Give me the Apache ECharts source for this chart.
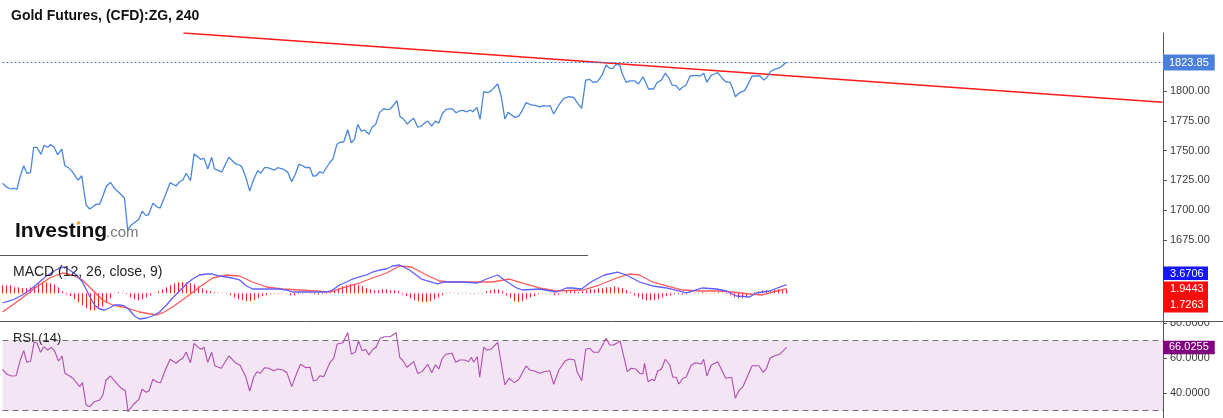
<!DOCTYPE html>
<html><head><meta charset="utf-8">
<script src="https://cdn.jsdelivr.net/npm/echarts@6.0.0/dist/echarts.min.js"></script>
<style>html,body{margin:0;padding:0;background:#fff}#c{width:1223px;height:418px}</style>
</head><body><div id="c"></div>
<script>
// ---- DATA (bar index along time) ----
const titleText = 'Gold Futures, (CFD):ZG, 240';
const macdTitle = 'MACD (12, 26, close, 9)';
const rsiTitle = 'RSI (14)';
const priceTicks = [1675, 1700, 1725, 1750, 1775, 1800];
const rsiTicks = [40, 60, 80];
const rsiBands = [30, 70];

const closeX = [0,1.1,2.2,3.0,3.6,4.4,5.3,6.1,7.0,7.8,8.6,9.6,10.4,11.3,12.0,12.8,13.8,14.8,15.6,16.5,17.4,18.9,19.8,20.9,21.8,22.6,23.4,24.3,25.1,25.9,27.0,28.0,29.3,30.5,31.3,32.2,34.1,34.9,35.9,36.5,37.6,38.6,39.4,40.9,41.9,43.4,44.3,45.1,45.9,47.0,47.9,48.8,49.5,50.4,51.3,52.3,53.0,54.8,56.6,58.3,59.3,59.9,60.9,61.8,62.8,63.8,64.6,65.5,66.3,68.0,68.8,70.3,71.3,72.3,73.3,74.1,75.1,75.8,76.8,77.6,78.4,79.3,80.1,80.9,81.8,82.6,83.6,84.4,85.3,86.3,87.2,88.0,88.8,89.7,90.5,91.6,92.4,93.3,94.3,95.3,95.9,96.9,97.6,98.6,99.4,100.3,101.2,102.0,102.8,103.8,104.7,105.5,106.3,107.3,108.2,109.1,109.9,110.9,112.4,113.4,114.3,115.3,116.1,116.9,117.6,118.6,119.4,120.3,121.3,122.2,123.8,124.7,125.6,126.4,127.3,128.1,129.1,129.9,130.9,132.2,133.4,134.3,135.1,136.1,136.9,137.8,139.1,140.3,141.5,142.8,143.8,144.8,145.8,146.8,147.6,148.7,149.9,150.9,151.8,152.6,153.4,154.3,154.9,155.9,156.9,158.0,159.0,160.1,160.9,161.5,162.8,163.6,164.7,165.7,166.5,167.4,168.4,169.3,170.1,170.8,171.9,173.3,174.4,175.3,176.1,177.2,178.0,178.8,179.8,180.8,181.9,182.6,183.2,184.3,185.5,186.3,187.4,188.4,189.4,190.3,191.1,191.9,193.0,194.3,195.1,195.9];
const closeY = [1722.6,1719.2,1717.8,1718.4,1717.5,1728.1,1737.3,1731.0,1731.5,1752.8,1752.8,1746.9,1754.4,1752.8,1755.0,1753.3,1746.6,1751.3,1737.1,1735.7,1732.6,1725.3,1728.9,1704.4,1701.0,1702.9,1704.9,1705.2,1711.9,1719.7,1723.4,1718.4,1714.2,1710.0,1683.4,1687.6,1692.4,1699.1,1695.4,1696.2,1705.8,1702.9,1701.8,1714.2,1723.1,1720.3,1723.9,1725.3,1731.0,1724.8,1747.2,1744.9,1742.7,1743.5,1734.6,1744.4,1734.6,1732.1,1744.4,1738.8,1737.9,1736.0,1726.8,1716.1,1725.9,1733.1,1731.0,1735.7,1735.7,1733.7,1735.7,1734.3,1731.8,1723.9,1731.0,1738.5,1737.3,1735.7,1736.0,1728.7,1728.9,1732.3,1731.0,1735.2,1739.8,1743.0,1755.3,1757.0,1757.2,1767.5,1756.6,1759.5,1772.1,1766.4,1767.3,1763.7,1769.6,1772.1,1782.1,1785.2,1784.6,1784.9,1787.4,1791.9,1778.4,1776.3,1772.3,1775.1,1777.1,1769.6,1770.6,1772.9,1774.8,1770.6,1774.8,1773.1,1780.7,1784.6,1785.2,1781.8,1783.5,1783.5,1782.6,1784.1,1782.6,1786.3,1776.3,1799.4,1798.6,1800.3,1805.9,1795.2,1776.5,1782.1,1779.9,1777.9,1779.0,1783.5,1790.3,1788.3,1787.7,1786.8,1787.7,1787.4,1787.7,1780.7,1788.3,1793.9,1795.2,1794.7,1789.7,1785.5,1809.2,1809.8,1807.3,1807.8,1813.4,1821.8,1819.0,1819.0,1822.4,1821.8,1814.9,1807.3,1808.6,1808.6,1805.9,1812.0,1806.5,1801.7,1801.7,1807.0,1809.2,1814.9,1811.5,1805.0,1804.5,1800.8,1803.6,1804.5,1812.6,1813.2,1812.6,1814.9,1807.3,1813.4,1814.3,1815.4,1811.2,1807.8,1807.3,1801.7,1795.2,1798.6,1800.3,1805.0,1812.6,1812.6,1812.6,1809.2,1811.2,1816.2,1818.2,1819.6,1821.6,1823.85];

const trendX = [45.25, 290];
const trendY = [1848.7, 1790.6];

const macdX = [0,2.5,5,7.5,9.25,11,12.5,14.25,15.5,16.75,18.5,20,21.75,23,24.25,25.5,26.75,28,29.25,30.5,31.75,33,34.25,36,37.5,39.25,41,42.5,44.25,46,47.5,49.25,51,52.5,54.25,56,57.5,59.25,61,62.5,64.25,66,67.5,69.25,71,72.5,74.25,76,77.5,79.25,81,82.5,84.25,86,87.5,89.25,91,92.5,94.25,96,97.5,99.25,101.75,104.75,108.75,110.5,115,118.75,121,123.75,125.5,128.5,130,134.25,138.5,141,142.5,144.75,147.5,150.5,153.75,156,159.25,162.5,166,171,175,178.5,181,183.5,186.75,188.5,191.75,196];
const macdY = [-4.13,-2.85,-0.72,2.26,4.81,7.36,9.06,10.77,11.19,9.91,7.79,4.81,-1.15,-4.98,-6.68,-7.11,-6.25,-4.98,-4.98,-5.40,-7.11,-9.66,-10.94,-10.51,-9.66,-7.96,-4.98,-2.00,0.98,3.96,6.08,7.79,8.21,8.21,7.36,6.94,6.51,5.66,3.11,1.83,1.83,1.83,1.83,1.83,1.40,0.55,0.55,0.55,0.55,0.55,0.55,1.40,3.53,4.81,6.08,6.94,7.79,9.06,9.91,10.34,11.62,12.04,9.91,6.08,3.96,4.81,4.81,4.38,6.08,7.79,5.66,2.26,1.40,1.83,0.55,2.26,2.26,1.83,5.23,7.79,9.06,7.79,4.81,3.11,2.26,0.13,2.26,1.83,0.98,-1.15,-1.57,0.13,0.98,3.6706];

const signalX = [0,4.25,8.5,11.75,15,17.5,20,22.5,25,27.5,31,34.25,38.5,40,42.5,46,49.25,52.5,56,59.25,62.5,66,70,74.25,78.5,81.75,85,89.25,92.5,96,99.25,102.25,106,109.25,111.75,118.5,122.5,126.75,130,134.25,138.5,145,149.25,153.5,156.75,159.25,162.5,166,170,174.25,179.25,182.5,186.75,190,192.5,196];
const signalY = [-7.96,-2.85,2.68,6.51,8.64,7.79,5.66,1.40,-2.85,-4.98,-6.25,-7.96,-9.23,-8.38,-5.83,-1.57,2.68,6.51,7.79,7.36,4.81,2.68,1.83,1.40,0.98,0.55,2.26,4.38,6.51,8.64,11.62,11.19,7.79,5.23,4.81,4.81,4.81,6.08,4.38,2.26,0.98,1.40,3.53,6.51,8.21,7.79,4.81,3.11,1.40,0.98,0.98,0.55,-0.30,-0.72,0.55,1.9443];

const histY = [3.40,3.40,3.40,2.55,2.55,2.13,2.13,2.55,2.98,4.26,4.68,4.68,4.26,3.83,2.55,0.85,-0.43,-1.28,-2.55,-3.83,-5.11,-6.38,-7.23,-7.23,-6.38,-5.53,-4.26,-2.13,0.21,0.43,0.21,-0.43,-1.70,-2.55,-2.98,-2.55,-1.70,-0.85,0.21,0.85,1.70,2.55,3.40,4.26,4.68,4.68,4.68,4.26,3.83,2.98,2.13,1.28,0.85,0.43,0.21,0.21,-0.21,-0.85,-1.70,-2.55,-2.98,-3.40,-3.40,-2.98,-2.13,-1.28,-0.85,-0.43,-0.21,-0.21,0.21,-0.21,-0.85,-0.85,-0.43,-0.21,0.21,-0.21,-0.43,-0.64,-0.43,-0.21,0.43,1.28,2.13,2.98,3.40,3.83,3.83,3.40,2.98,2.13,1.70,1.28,1.28,1.70,1.70,1.28,1.28,0.85,-0.43,-1.28,-2.13,-2.98,-3.40,-3.83,-3.83,-3.40,-2.55,-1.70,-0.85,0.21,0.21,0.21,-0.21,0.21,0.21,-0.21,-0.21,0.21,-0.21,0.85,1.28,1.70,1.70,0.85,-0.85,-2.13,-3.40,-3.83,-3.40,-2.55,-1.70,-1.28,-0.43,0.21,-0.21,0.21,-0.85,-0.64,0.21,0.85,0.85,0.85,0.43,0.85,1.28,1.70,1.70,2.13,2.13,2.55,2.55,2.98,2.55,2.13,1.28,0.43,-0.85,-1.70,-2.55,-2.98,-2.98,-2.98,-2.55,-1.70,-1.28,-0.85,-0.43,-0.43,-0.64,-0.43,0.21,0.21,-0.21,0.43,0.21,0.21,0.21,0.43,0.21,-0.43,-0.85,-1.70,-2.13,-2.13,-1.70,-0.85,0.43,0.85,1.28,1.28,1.28,1.70,1.70,1.70,1.7263];

const rsiX = [0,1.1,2.2,3.4,3.8,4.5,5.3,6.1,7.0,7.9,8.6,9.5,10.3,11.3,12.2,13.0,14.0,14.9,15.6,16.8,17.6,19.3,20.0,20.9,21.8,23.0,24.3,25.1,25.9,27.0,28.0,29.7,30.7,31.4,32.6,34.1,34.9,35.9,36.6,37.6,38.6,39.5,40.8,41.9,43.4,44.3,45.1,45.9,47.0,47.9,49.0,49.8,50.4,51.3,52.3,53.1,54.7,56.6,58.2,59.4,60.8,61.8,62.8,63.6,64.5,65.5,66.6,67.8,68.9,70.1,71.1,72.3,73.7,74.5,75.9,76.9,77.7,78.6,79.4,80.3,81.9,82.8,83.7,85.1,86.3,87.2,88.2,89.0,89.9,90.8,91.6,92.6,93.4,94.4,95.5,96.9,98.4,99.3,100.1,101.1,102.8,103.8,104.9,106.3,107.3,108.2,109.1,109.9,110.8,112.4,113.3,114.3,115.5,116.5,117.2,117.8,118.7,119.3,120.3,121.1,122.2,123.8,125.6,126.6,128.0,129.1,130.9,131.8,133.0,134.3,135.3,136.8,137.8,139.1,140.7,141.8,143.0,143.7,144.8,145.8,146.8,147.8,149.0,149.8,150.9,151.8,152.8,154.4,156.2,157.2,158.3,159.3,160.1,160.5,161.4,162.4,163.0,163.8,164.7,165.7,166.8,167.6,168.4,169.1,170.1,170.9,172.2,173.3,174.7,175.3,176.1,177.2,178.8,180.8,182.3,183.2,184.1,185.1,187.4,189.1,190.1,190.9,191.9,193.0,194.3,196];
const rsiY = [53.55,50.69,49.72,49.89,49.32,59.26,64.18,57.55,58.12,68.98,68.75,63.27,66.47,64.58,66.12,64.18,58.29,61.15,51.27,49.72,48.41,43.61,45.90,33.15,32.18,35.04,36.01,38.87,47.44,49.72,46.87,42.70,41.32,29.32,33.15,36.41,42.12,40.41,41.15,47.84,46.30,45.90,53.55,59.27,56.98,58.87,59.84,63.27,57.32,68.41,65.89,64.98,66.12,57.55,63.27,55.44,54.12,61.15,57.32,55.84,49.32,41.15,48.98,52.18,51.27,54.47,54.12,52.75,53.72,53.15,51.61,43.61,52.18,56.41,54.47,54.69,46.87,47.44,49.89,49.32,57.55,59.84,68.01,68.75,74.46,62.29,63.27,69.72,64.18,64.98,61.72,64.98,66.12,71.26,72.18,72.18,74.46,60.41,58.47,54.69,57.89,51.27,52.18,56.41,51.61,56.01,53.72,59.44,62.12,62.69,57.55,58.87,58.87,57.89,60.41,57.55,60.75,48.98,66.12,64.58,65.15,68.98,44.58,48.41,45.90,47.84,55.44,53.15,52.58,51.27,52.18,52.75,44.98,53.15,58.47,59.44,58.87,51.84,47.04,64.98,65.55,63.27,63.27,66.47,71.26,67.44,67.44,69.72,52.18,54.12,53.72,51.27,50.86,56.98,46.47,47.84,47.04,52.58,53.55,59.27,56.01,48.98,48.98,45.15,48.41,48.98,56.01,57.32,56.58,59.27,49.72,56.01,57.89,48.41,48.98,36.98,41.32,43.61,55.61,55.61,51.84,53.55,59.84,61.32,62.12,66.0255];

// ---- CHART ----
function zip(xs, ys) { const n = Math.min(xs.length, ys.length), o = []; for (let i = 0; i < n; i++) o.push([xs[i], ys[i]]); return o; }
const FONT = '"Liberation Sans", Arial, sans-serif';
const lastClose = closeY[closeY.length - 1];
const lastMacd = macdY[macdY.length - 1];
const lastSignal = signalY[signalY.length - 1];
const lastHist = histY[histY.length - 1];
const lastRsi = rsiY[rsiY.length - 1];

const chart = echarts.init(document.getElementById('c'), null, { renderer: 'canvas' });
const xA = (g) => ({ type: 'value', gridIndex: g, min: 0, max: 290.125, show: false });
const baseY = {
  type: 'value', position: 'right', splitLine: { show: false },
  axisLine: { show: true, onZero: false, lineStyle: { color: '#555', width: 1 } }
};
chart.setOption({
  animation: false,
  textStyle: { fontFamily: FONT },
  title: { text: titleText, left: 11, top: 9, padding: 0,
    textStyle: { fontSize: 14, fontWeight: 'bold', color: '#111', fontFamily: FONT } },
  grid: [
    { left: 2.5, right: 60, top: 33, height: 222 },
    { left: 2.5, right: 60, top: 255, height: 66 },
    { left: 2.5, right: 60, top: 321, height: 97 }
  ],
  xAxis: [xA(0), xA(1), xA(2)],
  yAxis: [
    Object.assign({}, baseY, { gridIndex: 0, min: 1662.4, max: 1848.7,
      axisTick: { show: true, length: 4, customValues: priceTicks, lineStyle: { color: '#555' } },
      axisLabel: { customValues: priceTicks, formatter: v => v.toFixed(2), color: '#3a3a3a', fontSize: 11, margin: 7 } }),
    Object.assign({}, baseY, { gridIndex: 1, min: -11.79, max: 16.30,
      axisTick: { show: false }, axisLabel: { show: false } }),
    Object.assign({}, baseY, { gridIndex: 2, min: 25.71, max: 81.14,
      axisTick: { show: true, length: 4, customValues: rsiTicks, lineStyle: { color: '#555' } },
      axisLabel: { customValues: rsiTicks, formatter: v => v.toFixed(4), color: '#3a3a3a', fontSize: 11, margin: 7 } })
  ],
  series: [
    { type: 'line', xAxisIndex: 0, yAxisIndex: 0, data: zip(trendX, trendY), symbol: 'none',
      lineStyle: { color: '#ff1a1a', width: 1.3 }, z: 3 },
    { type: 'line', xAxisIndex: 0, yAxisIndex: 0, data: zip(closeX, closeY), symbol: 'none',
      lineStyle: { color: '#4a86dc', width: 1.3 }, z: 4,
      markLine: { silent: true, symbol: 'none', animation: false,
        lineStyle: { color: '#3c78d8', type: [2, 2], width: 1 },
        label: { show: true, position: 'end', distance: 0, formatter: () => lastClose.toFixed(2),
          color: '#fff', backgroundColor: '#4a7fdc', fontSize: 11, padding: [3, 6, 2, 6], fontFamily: FONT },
        data: [{ yAxis: lastClose }] } },
    { type: 'bar', xAxisIndex: 1, yAxisIndex: 1, data: histY.map((v, i) => [i, v]), barWidth: 1,
      itemStyle: { color: '#ff2020' }, z: 2 },
    { type: 'line', xAxisIndex: 1, yAxisIndex: 1, data: zip(signalX, signalY), symbol: 'none',
      lineStyle: { color: '#ff5a5a', width: 1.3 }, z: 3 },
    { type: 'line', xAxisIndex: 1, yAxisIndex: 1, data: zip(macdX, macdY), symbol: 'none',
      lineStyle: { color: '#5f5fff', width: 1.3 }, z: 4 },
    { type: 'line', xAxisIndex: 2, yAxisIndex: 2, data: zip(rsiX, rsiY), symbol: 'none',
      lineStyle: { color: '#b04eb0', width: 1.1 }, z: 4,
      markArea: { silent: true, itemStyle: { color: '#f3e5f3' },
        data: [[{ yAxis: rsiBands[0] }, { yAxis: rsiBands[1] }]] },
      markLine: { silent: true, symbol: 'none', animation: false,
        lineStyle: { color: '#7a707a', type: [6, 4], width: 1 }, label: { show: false },
        data: [ { yAxis: rsiBands[1] }, { yAxis: rsiBands[0] } ] } },
    { type: 'line', xAxisIndex: 2, yAxisIndex: 2, data: [], symbol: 'none',
      markLine: { silent: true, symbol: 'none', animation: false,
        lineStyle: { color: 'rgba(0,0,0,0)', width: 0 },
        label: { show: true, position: 'end', distance: 0, formatter: () => lastRsi.toFixed(4),
          color: '#fff', backgroundColor: '#800080', fontSize: 11, padding: [1.5, 6, 1, 6], fontFamily: FONT },
        data: [{ yAxis: lastRsi }] } }
  ],
  graphic: [
    { type: 'text', x: 15, y: 231, z: 50, style: { text: 'Investing', fill: '#111', font: 'bold 21px ' + FONT, textVerticalAlign: 'middle', textAlign: 'left' } },
    { type: 'text', x: 106, y: 233, z: 50, style: { text: '.com', fill: '#7a7a7a', font: '15px ' + FONT, textVerticalAlign: 'middle', textAlign: 'left' } },
    { type: 'circle', z: 51, shape: { cx: 78.5, cy: 223, r: 1.8 }, style: { fill: '#f5a623' } },
    { type: 'text', x: 13, y: 272, z: 50, style: { text: macdTitle, fill: '#222', font: '14px ' + FONT, textVerticalAlign: 'middle' } },
    { type: 'text', x: 13, y: 338, z: 50, style: { text: rsiTitle, fill: '#222', font: '13px ' + FONT, textVerticalAlign: 'middle' } },
    { type: 'rect', z: 60, shape: { x: 1164, y: 313.5, width: 59, height: 7.5 }, style: { fill: '#fff' } },
    { type: 'line', z: 61, shape: { x1: 0, y1: 255.5, x2: 588, y2: 255.5 }, style: { stroke: '#555', lineWidth: 1 } },
    { type: 'line', z: 61, shape: { x1: 0, y1: 321.5, x2: 1223, y2: 321.5 }, style: { stroke: '#555', lineWidth: 1 } },
    { type: 'rect', z: 62, shape: { x: 1163, y: 266.5, width: 45, height: 13.5 }, style: { fill: '#1515ff' } },
    { type: 'text', z: 63, x: 1170, y: 273.5, style: { text: lastMacd.toFixed(4), fill: '#fff', font: '11px ' + FONT, textVerticalAlign: 'middle' } },
    { type: 'rect', z: 62, shape: { x: 1163, y: 281.5, width: 45, height: 15.5 }, style: { fill: '#ff0a0a' } },
    { type: 'text', z: 63, x: 1170, y: 289.3, style: { text: lastSignal.toFixed(4), fill: '#fff', font: '11px ' + FONT, textVerticalAlign: 'middle' } },
    { type: 'rect', z: 62, shape: { x: 1163, y: 297, width: 45, height: 15.5 }, style: { fill: '#ff0a0a' } },
    { type: 'text', z: 63, x: 1170, y: 305, style: { text: lastHist.toFixed(4), fill: '#fff', font: '11px ' + FONT, textVerticalAlign: 'middle' } }
  ]
});
</script>
</body></html>
